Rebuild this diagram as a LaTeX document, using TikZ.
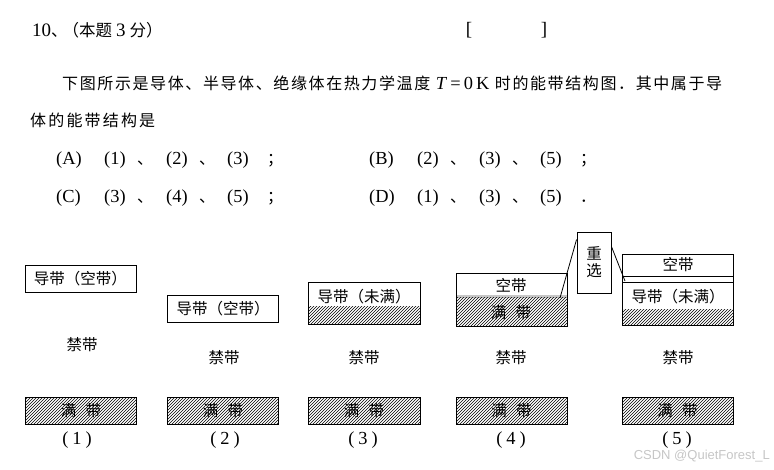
\documentclass[tikz,border=0pt]{standalone}
\usepackage{fontspec}
\setmainfont{Noto Sans CJK SC}
\newfontfamily\lt[Scale=1.15]{Liberation Serif}
\newfontfamily\wmfont{Liberation Sans}
\usetikzlibrary{patterns}
\def\endspread{ENDSPREAD}
\def\spreadit#1{#1\spreadnext}
\def\spreadnext#1{\ifx\endspread#1\else\hfil#1\expandafter\spreadnext\fi}
\newcommand\Tz{\hspace{4pt}{\lt\textit{T}\,=\,0\,K}\hspace{4pt}}
\newcommand\optline[5]{\makebox[48pt][l]{\lt(#1)}\makebox[33pt][l]{\lt(#2)}\makebox[29pt][l]{、}\makebox[33pt][l]{\lt(#3)}\makebox[28pt][l]{、}\makebox[40pt][l]{\lt(#4)}#5}
\newcommand\num[1]{{\lt(\hspace{4pt}#1\hspace{4pt})}}
\begin{document}
\begin{tikzpicture}[x=1pt,y=-1pt,
  txt/.style={inner sep=0, font=\fontsize{16}{19}\selectfont},
  ttl/.style={inner sep=0, font=\fontsize{16.5}{20}\selectfont},
  lbl/.style={inner sep=0, font=\fontsize{15.5}{17}\selectfont},
  band/.style={draw, line width=0.9pt, inner sep=0, minimum width=111pt, minimum height=27pt, font=\fontsize{15.5}{17}\selectfont},
  hatch/.style={pattern=north east lines},
  lead/.style={line width=0.8pt}]
\useasboundingbox (0,0) rectangle (774,470);

% header text
\node[ttl, anchor=west] (title) at (32,30) {{\lt 10}、\hspace{-5pt}（本题\hspace{4pt}{\lt 3}\hspace{4pt}分）};
\node[ttl] (lb) at (469,30) {\lt [};
\node[ttl] (rb) at (544,30) {\lt ]};
\node[txt, anchor=west] (p1) at (62,83) {\makebox[660pt][s]{\spreadit 下图所示是导体、半导体、绝缘体在热力学温度\Tz 时的能带结构图．其中属于导\endspread}};
\node[txt, anchor=west] (p2) at (30,120) {\makebox[125pt][s]{\spreadit 体的能带结构是\endspread}};
\node[txt, anchor=west] (oa) at (56,160) {\optline{A}{1}{2}{3}{；}};
\node[txt, anchor=west] (ob) at (369,160) {\optline{B}{2}{3}{5}{；}};
\node[txt, anchor=west] (oc) at (56,198) {\optline{C}{3}{4}{5}{；}};
\node[txt, anchor=west] (od) at (369,198) {\optline{D}{1}{3}{5}{．}};

% (1)
\node[band] (c1) at (80.5,278.5) {导带（空带）};
\node[lbl] (g1) at (82,345) {禁带};
\node[band, hatch] (v1) at (81,410.5) {满\hspace{0.6em}带};
\node[txt] (n1) at (77,440) {\num{1}};

% (2)
\node[band] (c2) at (223,309) {导带（空带）};
\node[lbl] (g2) at (224,358) {禁带};
\node[band, hatch] (v2) at (223,410.5) {满\hspace{0.6em}带};
\node[txt] (n2) at (225,440) {\num{2}};

% (3)
\fill[hatch] (308,307) rectangle (420,324);
\node[band, minimum width=112pt, minimum height=42pt] (c3) at (364,303) {};
\node[lbl] (t3) at (364,297) {导带（未满）};
\node[lbl] (g3) at (364,358) {禁带};
\node[band, hatch, minimum width=112pt] (v3) at (364,410.5) {满\hspace{0.6em}带};
\node[txt] (n3) at (363,440) {\num{3}};

% (4)
\fill[gray!45] (456,295) rectangle (567,298);
\fill[hatch] (456,298) rectangle (567,326);
\node[band, minimum height=53pt] (c4) at (511.5,299.5) {};
\node[lbl] (t4a) at (511,286) {空带};
\node[lbl] (t4b) at (511,313) {满\hspace{0.6em}带};
\node[lbl] (g4) at (511,358) {禁带};
\node[band, hatch] (v4) at (511.5,410.5) {满\hspace{0.6em}带};
\node[txt] (n4) at (511,440) {\num{4}};

% (5)
\fill[hatch] (622,310) rectangle (733,325);
\node[band, minimum height=71pt] (c5) at (677.5,289.5) {};
\draw[line width=0.9pt] (622,276) -- (733,276);
\draw[line width=0.9pt] (622,282) -- (733,282);
\node[lbl] (t5a) at (678,265) {空带};
\node[lbl] (t5b) at (678,297) {导带（未满）};
\node[lbl] (g5) at (678,358) {禁带};
\node[band, hatch] (v5) at (677.5,410.5) {满\hspace{0.6em}带};
\node[txt] (n5) at (677,440) {\num{5}};

% callout box
\node[draw, line width=0.9pt, minimum width=34pt, minimum height=61pt, inner sep=0, align=center, lbl] (cx) at (594,262.5) {重\\选};
\coordinate (e4) at (560,298);
\coordinate (e5) at (625,281);
\draw[lead] ([yshift=-8pt]cx.north west) -- (e4);
\draw[lead] ([yshift=-15pt]cx.north east) -- (e5);

% watermark
\node[inner sep=0, anchor=east, font=\wmfont\fontsize{13}{15}\selectfont, text=gray!45] (wm) at (770,456) {CSDN @QuietForest\_L};
\end{tikzpicture}
\end{document}
